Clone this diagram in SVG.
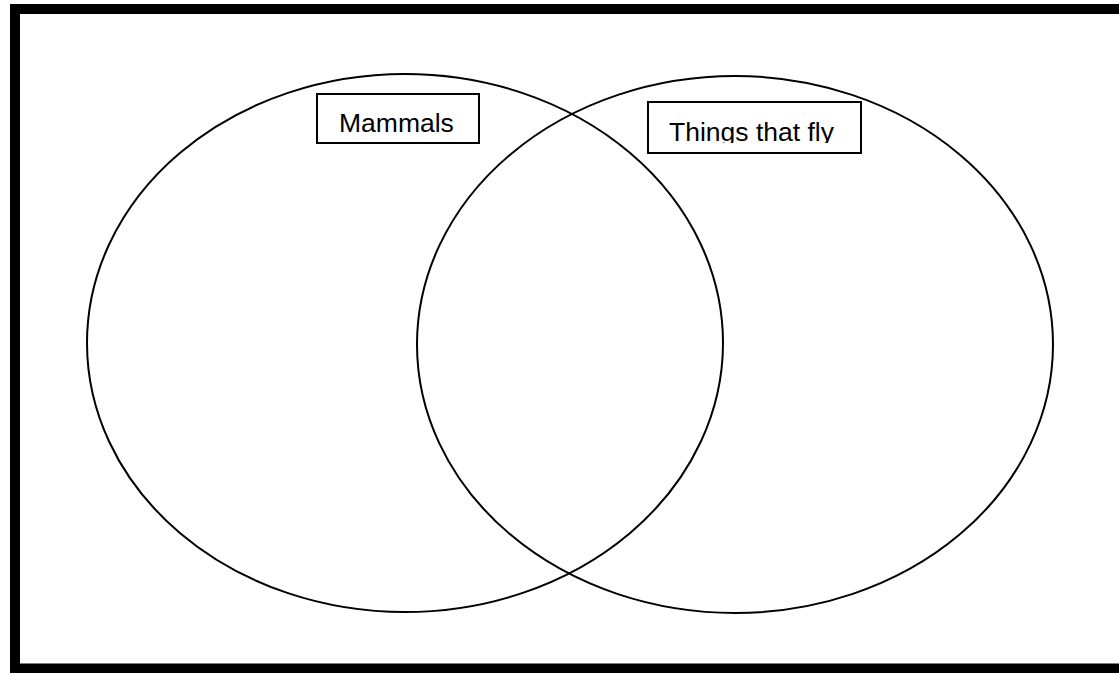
<svg xmlns="http://www.w3.org/2000/svg" width="1119" height="673" viewBox="0 0 1119 673">
<style>
.ring{fill:none;stroke:#000;stroke-width:2}
.box{fill:#fff;stroke:#000;stroke-width:2}
.lbl{font-family:"Liberation Sans",Arial,sans-serif;font-size:26.5px;fill:#000}
</style>
<defs><clipPath id="c2"><rect x="649" y="103" width="211" height="40"/></clipPath></defs>
<rect width="1119" height="673" fill="#fff"/>
<rect x="15" y="9" width="1120" height="659.5" fill="none" stroke="#000" stroke-width="10"/>
<g id="connectors"></g>
<g id="mammals-set"><ellipse class="ring" cx="405" cy="343" rx="318" ry="269"/></g>
<g id="fly-set"><ellipse class="ring" cx="735" cy="344.5" rx="318" ry="268.5"/></g>
<g id="mammals-label"><rect class="box" x="317" y="94" width="162" height="49"/><text class="lbl" x="339" y="132">Mammals</text></g>
<g id="fly-label"><rect class="box" x="648" y="102" width="213" height="51"/><text class="lbl" x="669" y="141" clip-path="url(#c2)">Things that fly</text></g>
</svg>
